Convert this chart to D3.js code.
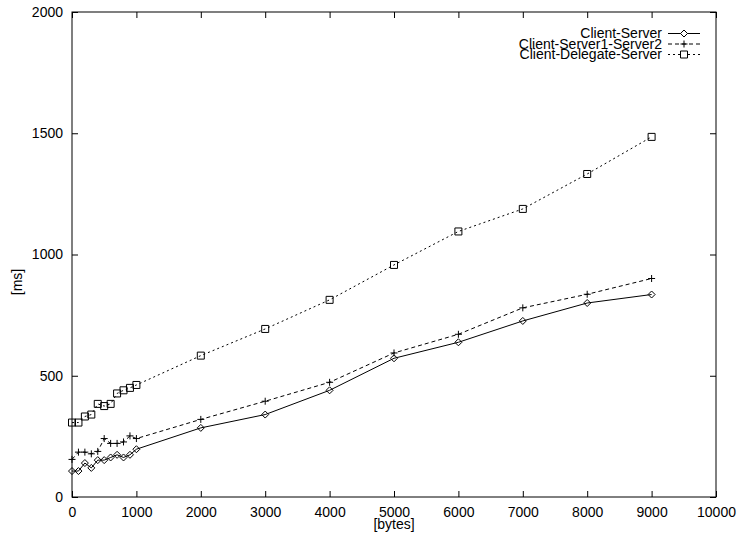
<!DOCTYPE html>
<html>
<head>
<meta charset="utf-8">
<script src="https://cdn.jsdelivr.net/npm/d3@7"></script>
<style>
  body { margin: 0; background: #fff; }
  svg text { font-family: "Liberation Sans", Arial, sans-serif; font-size: 14px; fill: #000; }
</style>
</head>
<body>
<svg id="chart" width="738" height="537"></svg>
<script>
// data
const bytes = [0, 100, 200, 300, 400, 500, 600, 700, 800, 900, 1000,
               2000, 3000, 4000, 5000, 6000, 7000, 8000, 9000];
const clientServer = [107, 107, 140, 120, 152, 152, 163, 174, 163, 174, 197,
                      285, 340, 440, 572, 638, 726, 800, 835];
const clientServer1Server2 = [155, 185, 185, 178, 188, 241, 221, 221, 227, 252, 241,
                              320, 395, 473, 594, 671, 780, 836, 901];
const clientDelegateServer = [307, 307, 332, 340, 384, 375, 384, 427, 440, 450, 462,
                              583, 693, 813, 957, 1095, 1188, 1332, 1485];
const seriesNames = ["Client-Server", "Client-Server1-Server2", "Client-Delegate-Server"];
const xTicks = [0, 1000, 2000, 3000, 4000, 5000, 6000, 7000, 8000, 9000, 10000];
const yTicks = [0, 500, 1000, 1500, 2000];

const plotLeft = 72, plotRight = 716, plotTop = 12, plotBottom = 497;

const svg = d3.select("#chart");

const x = d3.scaleLinear().domain([0, 10000]).range([plotLeft, plotRight]);
const y = d3.scaleLinear().domain([0, 2000]).range([plotBottom, plotTop]);

// bottom axis with labels, ticks pointing inward
const gx = svg.append("g")
  .attr("transform", "translate(0," + plotBottom + ")")
  .call(d3.axisBottom(x).tickValues(xTicks).tickSize(-6).tickPadding(10).tickFormat(d3.format("d")));
gx.select(".domain").remove();

// top mirrored ticks
const gxt = svg.append("g")
  .attr("transform", "translate(0," + plotTop + ")")
  .call(d3.axisTop(x).tickValues(xTicks).tickSize(-6).tickFormat(""));
gxt.select(".domain").remove();

// left axis
const gy = svg.append("g")
  .attr("transform", "translate(" + plotLeft + ",0)")
  .call(d3.axisLeft(y).tickValues(yTicks).tickSize(-6).tickPadding(9).tickFormat(d3.format("d")));
gy.select(".domain").remove();

// right mirrored ticks
const gyr = svg.append("g")
  .attr("transform", "translate(" + plotRight + ",0)")
  .call(d3.axisRight(y).tickValues(yTicks).tickSize(-6).tickFormat(""));
gyr.select(".domain").remove();

svg.selectAll(".tick line").attr("stroke", "#000");
svg.selectAll(".tick text").style("font-size", "14px");

// frame
svg.append("rect")
  .attr("x", plotLeft).attr("y", plotTop)
  .attr("width", plotRight - plotLeft).attr("height", plotBottom - plotTop)
  .attr("fill", "none").attr("stroke", "#000").attr("stroke-width", 1);

// axis titles
svg.append("text")
  .attr("x", (plotLeft + plotRight) / 2).attr("y", 529)
  .attr("text-anchor", "middle")
  .text("[bytes]");

svg.append("text")
  .attr("transform", "translate(22,282) rotate(-90)")
  .attr("text-anchor", "middle")
  .text("[ms]");

// marker shapes
function marker(kind, s) {
  if (kind === "diamond") return `M0,${-s}L${s},0L0,${s}L${-s},0Z`;
  if (kind === "plus") return `M${-s},0H${s}M0,${-s}V${s}`;
  return `M${-s},${-s}H${s}V${s}H${-s}Z`;
}

const series = [
  { name: seriesNames[0], values: clientServer, dash: null, kind: "diamond" },
  { name: seriesNames[1], values: clientServer1Server2, dash: "4,3", kind: "plus" },
  { name: seriesNames[2], values: clientDelegateServer, dash: "2,3", kind: "square" }
];

const line = d3.line()
  .x((d, i) => x(bytes[i]))
  .y(d => y(d));

series.forEach(function (s) {
  svg.append("path")
    .datum(s.values)
    .attr("d", line)
    .attr("fill", "none")
    .attr("stroke", "#000")
    .attr("stroke-width", 1)
    .attr("stroke-dasharray", s.dash);

  svg.selectAll(null)
    .data(s.values)
    .enter()
    .append("path")
    .attr("transform", (d, i) => "translate(" + x(bytes[i]) + "," + y(d) + ")")
    .attr("d", marker(s.kind, 3.5))
    .attr("fill", "none")
    .attr("stroke", "#000")
    .attr("stroke-width", 1);
});

// legend
const legend = svg.append("g");
series.forEach(function (s, i) {
  const by = 38 + i * 10.5;
  legend.append("text")
    .attr("x", 662).attr("y", by)
    .attr("text-anchor", "end")
    .text(s.name);
  legend.append("line")
    .attr("x1", 668).attr("x2", 700)
    .attr("y1", by - 4.5).attr("y2", by - 4.5)
    .attr("stroke", "#000")
    .attr("stroke-dasharray", s.dash);
  legend.append("path")
    .attr("transform", "translate(684," + (by - 4.5) + ")")
    .attr("d", marker(s.kind, 3.5))
    .attr("fill", s.kind === "plus" ? "none" : "#fff")
    .attr("stroke", "#000");
});
</script>
</body>
</html>
